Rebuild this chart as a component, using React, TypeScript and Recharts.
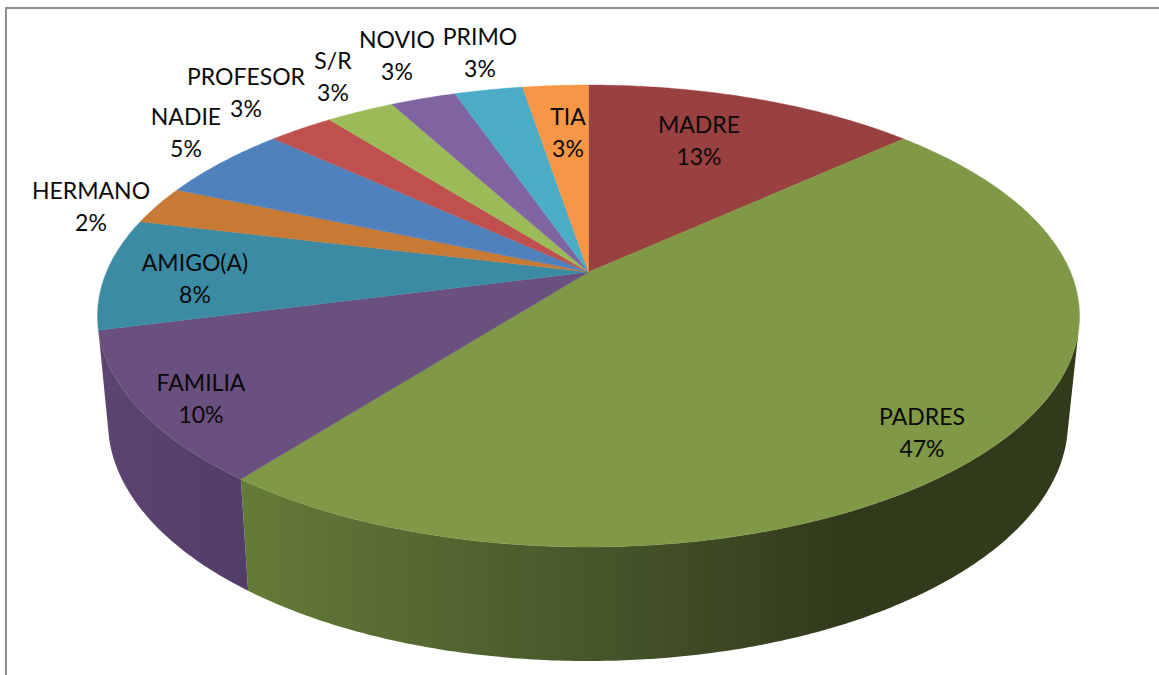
import { PieChart, Pie } from "recharts";

const CATEGORIES = ["MADRE", "PADRES", "FAMILIA", "AMIGO(A)", "HERMANO", "NADIE", "PROFESOR", "S/R", "NOVIO", "PRIMO", "TIA"];
const VALUES = [13.2, 47.3, 10.5, 7.8, 2.7, 5.3, 2.6, 2.7, 2.6, 2.7, 2.6];
const PERCENT_LABELS = ["13%", "47%", "10%", "8%", "2%", "5%", "3%", "3%", "3%", "3%", "3%"];

const COLORS = ["#994040", "#7f9947", "#69507f", "#3c8ba5", "#c77936", "#4f81bd", "#c0504d", "#9bbb59", "#8064a2", "#4bacc6", "#f79646"];
// AMIGO's wall only peeks out at the left edge, the reference keeps that sliver purple
const WALL_COLORS = ["#6e2e2d", "url(#wallGreen)", "url(#wallPurple)", "url(#wallPurple)", "#9c5f2a", "#3d6696", "#983f3d", "#7c9647", "#665082", "#3c8a9e", "#c67838"];

// where each two-line label is centred (x, y of the first line)
const LABEL_POS: [number, number][] = [
  [699, 124], [922, 416], [201, 382], [195, 262], [91, 190], [186, 116],
  [246, 76], [333, 60], [397, 39], [480, 36], [568, 116],
];
const LINE_GAP = 31.5;

const data = CATEGORIES.map((name, i) => ({ name, value: VALUES[i] }));

// tilted disc: circle angle -> point on the drawn rim (perspective, apex sits above ellipse centre)
const TILT = 0.19;
const TOP = { cx: 588.5, cy: 316, rx: 491, ry: 231 };
const BOTTOM = { cx: 588, cy: 422, rx: 480, ry: 239 };

type Rim = typeof TOP;
type Pt = [number, number];

function rimPoint(rim: Rim, deg: number): Pt {
  const a = (deg * Math.PI) / 180;
  const sx = Math.sin(a);
  const sy = Math.cos(a);
  const w = 1 + TILT * sy;
  const c = rim.rx * Math.sqrt(1 - TILT * TILT);
  return [rim.cx + (c * sx) / w, rim.cy - (rim.ry * sy + rim.ry * TILT) / w];
}

function arc(rim: Rim, from: number, to: number) {
  const pts: Pt[] = [];
  const n = Math.max(2, Math.ceil((to - from) * 2));
  for (let i = 0; i <= n; i++) pts.push(rimPoint(rim, from + ((to - from) * i) / n));
  return pts;
}

const toPath = (pts: Pt[]) =>
  "M" + pts.map(([x, y]) => `${x.toFixed(2)},${y.toFixed(2)}`).join("L") + "Z";

function TopSlice(props: any) {
  const i = CATEGORIES.indexOf(props.name);
  const from = 90 - props.startAngle;
  const to = 90 - props.endAngle;
  const apex: Pt = [TOP.cx, TOP.cy - TOP.ry * TILT];
  return <path d={toPath([apex, ...arc(TOP, from, to)])} fill={COLORS[i]} stroke={COLORS[i]} strokeWidth={0.4} />;
}

// signed area, only the quads that face the viewer are drawn
function facesViewer(q: Pt[]) {
  let s = 0;
  for (let k = 0; k < q.length; k++) {
    const [x1, y1] = q[k];
    const [x2, y2] = q[(k + 1) % q.length];
    s += x1 * y2 - x2 * y1;
  }
  return s > 0;
}

function WallSlice(props: any) {
  const i = CATEGORIES.indexOf(props.name);
  const from = 90 - props.startAngle;
  const to = 90 - props.endAngle;
  const a = arc(TOP, from, to);
  const b = arc(BOTTOM, from, to);
  let d = "";
  for (let k = 0; k < a.length - 1; k++) {
    const q = [a[k], b[k], b[k + 1], a[k + 1]];
    if (facesViewer(q)) d += toPath(q);
  }
  return d ? <path d={d} fill={WALL_COLORS[i]} /> : null;
}

function SliceLabel(props: any) {
  const i = props.index;
  const [x, y] = LABEL_POS[i];
  return (
    <g>
      <text x={x} y={y} textAnchor="middle" dominantBaseline="central" fontFamily="Lato" fontSize={23} fill="#0a0a0a">
        {CATEGORIES[i]}
      </text>
      <text x={x} y={y + LINE_GAP} textAnchor="middle" dominantBaseline="central" fontFamily="Lato" fontSize={23} fill="#0a0a0a">
        {PERCENT_LABELS[i]}
      </text>
    </g>
  );
}

export default function App() {
  return (
    <div style={{ position: "absolute", left: 0, top: 0, width: 1159, height: 675, overflow: "hidden", background: "#fff" }}>
      <div style={{ position: "absolute", left: 5, top: 7, width: 1154, height: 668, borderTop: "2px solid #8e8e8e", borderLeft: "2px solid #8e8e8e" }} />
      <div style={{ position: "absolute", left: 0, top: 0 }}>
        <PieChart width={1159} height={675} margin={{ top: 0, right: 0, bottom: 0, left: 0 }}>
          <defs>
            <linearGradient id="wallGreen" gradientUnits="userSpaceOnUse" x1={245} y1={0} x2={840} y2={0}>
              <stop offset="0%" stopColor="#647b38" />
              <stop offset="60%" stopColor="#46552a" />
              <stop offset="100%" stopColor="#323a1c" />
            </linearGradient>
            <linearGradient id="wallPurple" gradientUnits="userSpaceOnUse" x1={100} y1={0} x2={250} y2={0}>
              <stop offset="0%" stopColor="#5c4470" />
              <stop offset="100%" stopColor="#523c68" />
            </linearGradient>
          </defs>
          <Pie
            data={data}
            dataKey="value"
            nameKey="name"
            cx={589}
            cy={272}
            outerRadius={230}
            startAngle={90}
            endAngle={-270}
            shape={WallSlice}
            isAnimationActive={false}
            legendType="none"
          />
          <Pie
            data={data}
            dataKey="value"
            nameKey="name"
            cx={589}
            cy={272}
            outerRadius={230}
            startAngle={90}
            endAngle={-270}
            shape={TopSlice}
            label={SliceLabel}
            labelLine={false}
            isAnimationActive={false}
            legendType="none"
          />
        </PieChart>
      </div>
    </div>
  );
}
